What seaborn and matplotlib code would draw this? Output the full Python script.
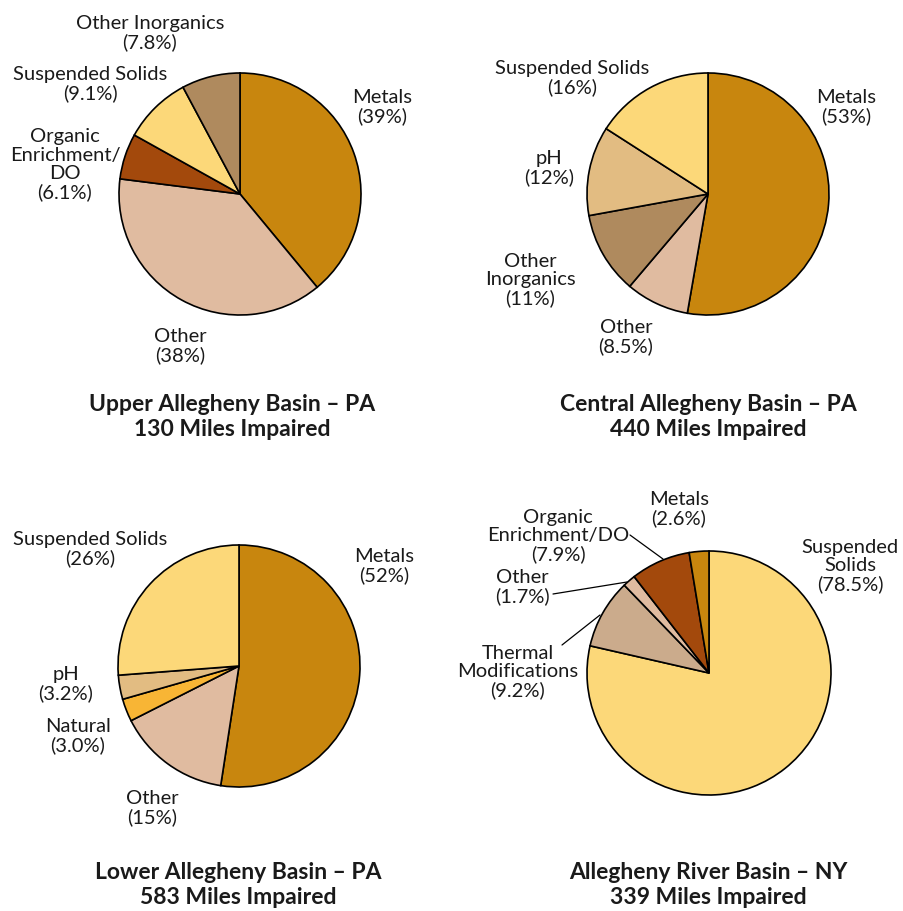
import matplotlib
matplotlib.use("Agg")
import matplotlib.pyplot as plt
import seaborn as sns

# colours per impairment category
palette = {
    "Metals": "#C8860E",
    "Other": "#E0BBA0",
    "Organic": "#A3490C",
    "Suspended Solids": "#FCD879",
    "Other Inorganics": "#AF8A5E",
    "pH": "#E2BC82",
    "Natural": "#F8B535",
    "Thermal": "#CBAB8C",
}

# upper allegheny
upper_cats = ["Metals", "Other", "Organic", "Suspended Solids", "Other Inorganics"]
upper_vals = [39, 38, 6.1, 9.1, 7.8]
upper_labels = ["Metals\n(39%)", "Other\n(38%)", "Organic\nEnrichment/\nDO\n(6.1%)",
                "Suspended Solids\n(9.1%)", "Other Inorganics\n(7.8%)"]

# central allegheny
central_cats = ["Metals", "Other", "Other Inorganics", "pH", "Suspended Solids"]
central_vals = [53, 8.5, 11, 12, 16]
central_labels = ["Metals\n(53%)", "Other\n(8.5%)", "Other\nInorganics\n(11%)",
                  "pH\n(12%)", "Suspended Solids\n(16%)"]

# lower allegheny
lower_cats = ["Metals", "Other", "Natural", "pH", "Suspended Solids"]
lower_vals = [52, 15, 3.0, 3.2, 26]
lower_labels = ["Metals\n(52%)", "Other\n(15%)", "Natural\n(3.0%)",
                "pH\n(3.2%)", "Suspended Solids\n(26%)"]

# allegheny river NY
ny_cats = ["Suspended Solids", "Thermal", "Other", "Organic", "Metals"]
ny_vals = [78.5, 9.2, 1.7, 7.9, 2.6]
ny_labels = ["Suspended\nSolids\n(78.5%)", "Thermal\nModifications\n(9.2%)", "Other\n(1.7%)",
             "Organic\nEnrichment/DO\n(7.9%)", "Metals\n(2.6%)"]

titles = ["Upper Allegheny Basin \u2013 PA\n130 Miles Impaired",
          "Central Allegheny Basin \u2013 PA\n440 Miles Impaired",
          "Lower Allegheny Basin \u2013 PA\n583 Miles Impaired",
          "Allegheny River Basin \u2013 NY\n339 Miles Impaired"]

W, H = 904, 911

sns.set_style("white")
plt.rcParams["font.family"] = ["Lato", "DejaVu Sans"]

fig = plt.figure(figsize=(W / 100, H / 100), dpi=100)
ax = fig.add_axes([0, 0, 1, 1])
ax.set_aspect("equal")
ax.axis("off")

# layout: pie centre (pixels, y from top), radius, label positions, title position
panels = [
    (upper_cats, upper_vals, upper_labels, (240, 194), 121,
     [(382, 107), (180, 346), (65, 165), (90, 84), (150, 33)], (232, 417)),
    (central_cats, central_vals, central_labels, (708, 194), 121,
     [(846, 107), (626, 337), (530, 280), (549, 168), (572, 78)], (708, 417)),
    (lower_cats, lower_vals, lower_labels, (239, 666), 121,
     [(384, 566), (152, 808), (78, 736), (66, 684), (90, 549)], (238, 885)),
    (ny_cats, ny_vals, ny_labels, (709, 673), 122,
     [(850, 566), (518, 672), (522, 587), (558, 536), (679, 509)], (708, 885)),
]

for i, (cats, vals, labels, (cx, cy), r, label_pos, title_pos) in enumerate(panels):
    colors = [palette[c] for c in cats]
    ax.pie(vals, colors=colors, startangle=90, counterclock=False,
           center=(cx, H - cy), radius=r, normalize=True,
           wedgeprops=dict(edgecolor="black", linewidth=1.2))
    for lab, (lx, ly) in zip(labels, label_pos):
        ax.text(lx, H - ly, lab, ha="center", va="center", fontsize=14.5,
                linespacing=1.1, color="#1a1a1a")
    ax.text(title_pos[0], H - title_pos[1], titles[i],
            ha="center", va="center", fontsize=16.5, fontweight="bold",
            linespacing=1.2, color="#1a1a1a")

# leader lines for the small NY slices
leaders = [((630, 535), (663, 559)),
           ((553, 594), (627, 582)),
           ((562, 645), (600, 615))]
for (x0, y0), (x1, y1) in leaders:
    ax.plot([x0, x1], [H - y0, H - y1], color="black", linewidth=0.9)

ax.set_xlim(0, W)
ax.set_ylim(0, H)

fig.savefig("out.png", dpi=100, facecolor="white")
